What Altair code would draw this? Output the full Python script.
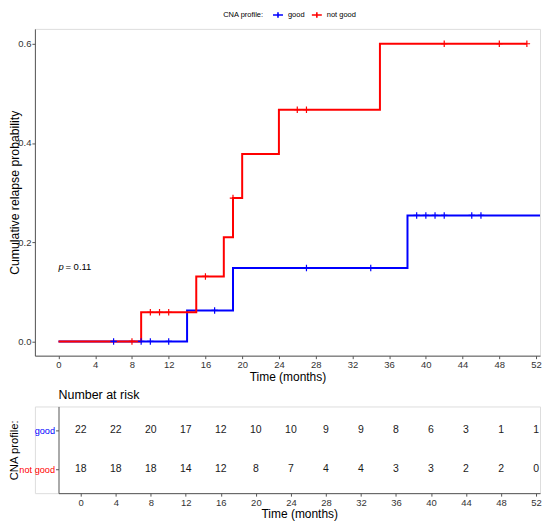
import altair as alt
import pandas as pd

# ---------------- data ----------------
groups = ["good", "not good"]
colors = ["#0000FF", "#FF0000"]

# step curves (time in months, cumulative relapse probability)
good_t = [0, 14, 19, 38, 53]
good_p = [0.0, 0.0625, 0.148, 0.254, 0.254]
notgood_t = [0, 9, 15, 18, 19, 20, 24, 35, 51]
notgood_p = [0.0, 0.0588, 0.131, 0.210, 0.289, 0.378, 0.467, 0.600, 0.600]

# censoring times
good_cens = [6, 9, 10, 12, 17, 27, 34, 39, 40, 41, 42, 45, 46]
notgood_cens = [8, 10, 11, 12, 16, 19, 26, 27, 42, 48, 51]

# number at risk table
risk_times = [0, 4, 8, 12, 16, 20, 24, 28, 32, 36, 40, 44, 48, 52]
risk_good = [22, 22, 20, 17, 12, 10, 10, 9, 9, 8, 6, 3, 1, 1]
risk_notgood = [18, 18, 18, 14, 12, 8, 7, 4, 4, 3, 3, 2, 2, 0]

x_ticks = [0, 4, 8, 12, 16, 20, 24, 28, 32, 36, 40, 44, 48, 52]
y_ticks = [0.0, 0.2, 0.4, 0.6]
p_label_pos = [0.0, 0.15]

FONT = "Liberation Sans"
PLUS = "M-1,0L1,0M0,-1L0,1"
LEG_SYM = "M-1,0L1,0M0,-0.55L0,0.55"

W = 507          # plot width (both panels)
H_MAIN = 328
H_RISK = 87
RISK_LEFT = 23.7  # risk panel axis starts this far right of the main axis
TITLE_X = 14      # page x of the rotated axis titles' centre
MAIN_LEFT = 34    # page x of main plot left edge


def step_at(ts, ps, t):
    v = ps[0]
    for ti, pi in zip(ts, ps):
        if ti <= t:
            v = pi
    return v


curve = pd.DataFrame(
    {
        "time": good_t + notgood_t,
        "prob": good_p + notgood_p,
        "group": ["good"] * len(good_t) + ["not good"] * len(notgood_t),
    }
)
cens = pd.DataFrame(
    {
        "time": good_cens + notgood_cens,
        "prob": [step_at(good_t, good_p, t) for t in good_cens]
        + [step_at(notgood_t, notgood_p, t) for t in notgood_cens],
        "group": ["good"] * len(good_cens) + ["not good"] * len(notgood_cens),
    }
)
risk = pd.DataFrame(
    {
        "time": risk_times + risk_times,
        "group": ["good"] * len(risk_times) + ["not good"] * len(risk_times),
        "n": risk_good + risk_notgood,
    }
)
ptext = pd.DataFrame({"time": [p_label_pos[0]], "prob": [p_label_pos[1]]})

AX = dict(
    domainColor="#555555",
    tickColor="#555555",
    tickSize=3,
    labelFont=FONT,
    titleFont=FONT,
    titleFontWeight="normal",
    titleColor="#000000",
    grid=False,
    labelOverlap=False,
)

xmain = alt.Scale(domain=[-2.57, 52.43], nice=False, zero=False)
ymain = alt.Scale(domain=[-0.0287, 0.63], nice=False, zero=False)
cscale = alt.Scale(domain=groups, range=colors)

x_axis_main = alt.Axis(
    values=x_ticks, format="d", title="Time (months)", labelPadding=1, titlePadding=2,
    labelColor="#333333", labelFontSize=9.5, titleFontSize=12, **AX
)
y_axis_main = alt.Axis(
    values=y_ticks,
    format=".1f",
    title="Cumulative relapse probability",
    labelPadding=1,
    titleX=TITLE_X - MAIN_LEFT,
    titleY=H_MAIN / 2,
    titleBaseline="middle",
    titleFontSize=12.3,
    labelColor="#333333",
    labelFontSize=9.5,
    **AX,
)

lines = (
    alt.Chart(curve)
    .mark_line(interpolate="step-after", strokeWidth=2, clip=True)
    .encode(
        x=alt.X("time:Q", scale=xmain, axis=x_axis_main),
        y=alt.Y("prob:Q", scale=ymain, axis=y_axis_main),
        color=alt.Color(
            "group:N",
            scale=cscale,
            legend=alt.Legend(
                title="CNA profile:",
                orient="none",
                legendX=189,
                legendY=-20,
                direction="horizontal",
                titleOrient="left",
                titleFont=FONT,
                titleFontSize=7.5,
                titleFontWeight="normal",
                titleColor="#000000",
                titlePadding=8,
                labelFont=FONT,
                labelFontSize=7.5,
                labelColor="#000000",
                labelOffset=4,
                columnPadding=3,
                symbolType=LEG_SYM,
                symbolSize=100,
                symbolStrokeWidth=1.6,
                padding=0,
            ),
        ),
    )
)

marks = (
    alt.Chart(cens)
    .mark_point(shape=PLUS, size=42, strokeWidth=1.2, filled=False, opacity=1, clip=True)
    .encode(
        x=alt.X("time:Q", scale=xmain, axis=x_axis_main),
        y=alt.Y("prob:Q", scale=ymain, axis=y_axis_main),
        color=alt.Color("group:N", scale=cscale, legend=None),
    )
)

p_italic = (
    alt.Chart(ptext)
    .mark_text(text="p", font=FONT, fontSize=9.5, fontStyle="italic", align="left", color="#000000")
    .encode(x=alt.X("time:Q", scale=xmain, axis=x_axis_main), y=alt.Y("prob:Q", scale=ymain, axis=y_axis_main))
)
p_value = (
    alt.Chart(ptext)
    .mark_text(text="= 0.11", font=FONT, fontSize=9.5, align="left", dx=7, color="#000000")
    .encode(x=alt.X("time:Q", scale=xmain, axis=x_axis_main), y=alt.Y("prob:Q", scale=ymain, axis=y_axis_main))
)

main = alt.layer(lines, marks, p_italic, p_value).properties(width=W, height=H_MAIN)

rx = alt.Scale(domain=[-2.54, 52.45], range=[RISK_LEFT, W], nice=False, zero=False)
ry = alt.Scale(type="point", domain=groups, padding=0.6)

risk_chart = (
    alt.Chart(risk)
    .mark_text(font=FONT, fontSize=10.5, color="#1a1a1a")
    .encode(
        x=alt.X(
            "time:Q",
            scale=rx,
            axis=alt.Axis(
                values=x_ticks, format="d", title="Time (months)", labelPadding=1, titlePadding=2,
                labelColor="#333333", labelFontSize=9.5, titleFontSize=12, **AX
            ),
        ),
        y=alt.Y(
            "group:N",
            scale=ry,
            sort=groups,
            axis=alt.Axis(
                title="CNA profile:",
                labelPadding=1,
                labelFontSize=9.2,
                offset=-RISK_LEFT,
                labelColor={"expr": "datum.value == 'good' ? '#0000FF' : '#FF0000'"},
                titleX=TITLE_X - (MAIN_LEFT + RISK_LEFT),
                titleY=H_RISK / 2,
                titleBaseline="middle",
                titleFontSize=11.3,
                **AX,
            ),
        ),
        text="n:Q",
    )
    .properties(
        width=W,
        height=H_RISK,
        title=alt.Title(
            "Number at risk",
            anchor="start",
            frame="group",
            font=FONT,
            fontSize=12.5,
            fontWeight="normal",
            color="#000000",
            offset=5,
            dx=RISK_LEFT,
        ),
    )
)

chart = (
    alt.vconcat(main, risk_chart, spacing=6)
    .properties(padding={"left": 0, "top": 0, "right": 0, "bottom": 0})
    .configure_view(stroke=None)
    .configure(background="white")
)

chart.save("out.html", embed_options={"renderer": "svg", "actions": False})
